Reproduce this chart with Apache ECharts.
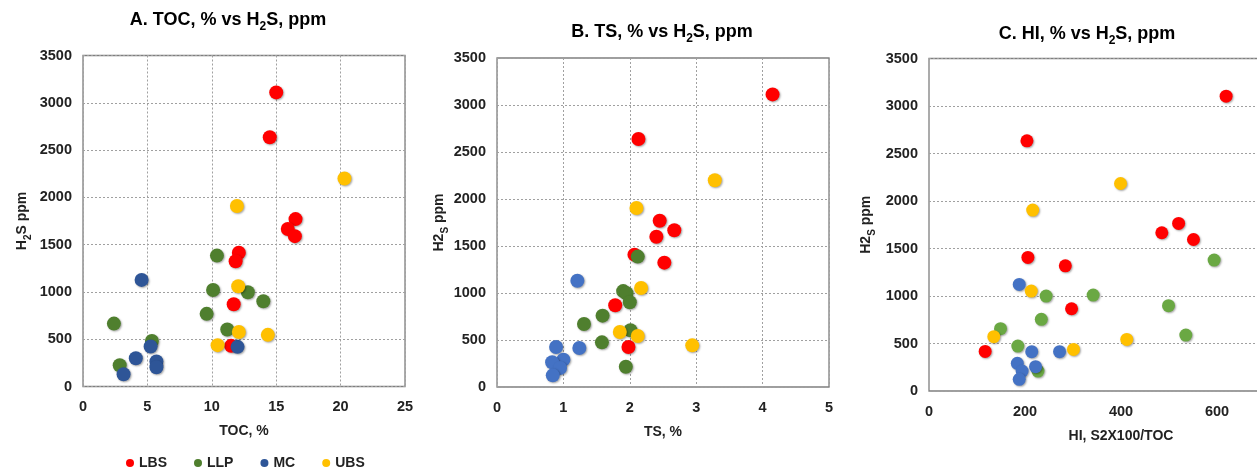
<!DOCTYPE html>
<html>
<head>
<meta charset="utf-8">
<script src="https://cdn.jsdelivr.net/npm/echarts@6/dist/echarts.min.js"></script>
<style>
  html, body { margin: 0; padding: 0; background: #fff; }
  #chart { width: 1257px; height: 470px; }
</style>
</head>
<body>
<div id="chart"></div>
<script>
// Sample groups
const groups = ['LBS', 'LLP', 'MC', 'UBS'];

// A. TOC (%) vs H2S (ppm)
const tocLBS = [[15.0, 3110], [14.5, 2635], [16.5, 1770], [15.9, 1665], [16.45, 1590], [12.1, 1415], [11.85, 1325], [11.7, 870], [11.5, 430]];
const tocLLP = [[2.4, 665], [2.85, 225], [5.35, 482], [10.4, 1384], [10.1, 1020], [9.6, 768], [12.8, 996], [14.0, 901], [11.2, 602]];
const tocMC  = [[4.55, 1127], [4.1, 299], [5.25, 423], [5.7, 264], [5.7, 204], [3.15, 130], [12.0, 419]];
const tocUBS = [[20.3, 2200], [11.95, 1908], [12.05, 1060], [12.1, 577], [14.35, 546], [10.45, 437]];

// B. TS (%) vs H2S (ppm)
const tsLBS = [[4.15, 3113], [2.13, 2638], [2.45, 1769], [2.67, 1667], [2.40, 1599], [2.07, 1408], [2.52, 1323], [1.78, 869], [1.98, 426]];
const tsLLP = [[2.12, 1387], [1.9, 1020], [1.95, 998], [2.0, 901], [1.59, 759], [1.31, 670], [2.01, 603], [1.58, 475], [1.94, 216]];
const tsMC  = [[1.21, 1131], [1.24, 415], [0.89, 426], [1.0, 291], [0.83, 263], [0.95, 202], [0.84, 124]];
const tsUBS = [[3.28, 2199], [2.10, 1904], [2.17, 1053], [1.85, 585], [2.12, 543], [2.94, 443]];

// C. HI (S2x100/TOC) vs H2S (ppm)
const hiLBS = [[619, 3103], [204, 2633], [520, 1764], [485, 1666], [551, 1595], [206, 1406], [284, 1318], [297, 866], [117, 417]];
const hiLLP = [[594, 1378], [342, 1010], [244, 999], [499, 898], [234, 754], [149, 656], [535, 589], [185, 473], [227, 210]];
const hiMC  = [[188, 1122], [214, 414], [272, 414], [184, 291], [222, 256], [194, 210], [188, 123]];
const hiUBS = [[399, 2184], [216, 1904], [213, 1052], [135, 572], [412, 543], [301, 438]];

// Axis ticks
const yTicks = { min: 0, max: 3500, interval: 500 };
const xTicksA = { min: 0, max: 25, interval: 5 };
const xTicksB = { min: 0, max: 5, interval: 1 };
const xTicksC = { min: 0, max: 800, interval: 200 };

const panels = [
  { data: [tocLBS, tocLLP, tocMC, tocUBS], colors: ['#ff0000', '#4f7f2e', '#2e5597', '#ffc000'], size: 14 },
  { data: [tsLBS, tsLLP, tsMC, tsUBS],     colors: ['#ff0000', '#4f7f2e', '#4472c4', '#ffc000'], size: 14 },
  { data: [hiLBS, hiLLP, hiMC, hiUBS],     colors: ['#ff0000', '#6aa843', '#4472c4', '#ffc000'], size: 13 }
];

const FONT = '"Liberation Sans", Arial, sans-serif';
const INK = '#222';
const labelStyle = { fontFamily: FONT, fontWeight: 'bold', fontSize: 14.5, color: INK };
const nameStyle = { fontFamily: FONT, fontWeight: 'bold', fontSize: 14, color: INK };
const subRich = {
  n:   { fontFamily: FONT, fontWeight: 'bold', fontSize: 14, color: INK, lineHeight: 16, verticalAlign: 'top' },
  sub: { fontFamily: FONT, fontWeight: 'bold', fontSize: 10, color: INK, lineHeight: 10, verticalAlign: 'top', padding: [8, 0, 0, 0] }
};
const titleRich = {
  n:   { fontFamily: FONT, fontWeight: 'bold', fontSize: 18, color: INK, lineHeight: 20, verticalAlign: 'top' },
  sub: { fontFamily: FONT, fontWeight: 'bold', fontSize: 12, color: INK, lineHeight: 12, verticalAlign: 'top', padding: [10, 0, 0, 0] }
};
const gridLine = { show: true, lineStyle: { color: '#a0a0a0', type: [2, 2], width: 1 } };

const grids = [
  { left: 83,  top: 55.5, width: 322, height: 331 },
  { left: 497, top: 58,   width: 332, height: 329 },
  { left: 929, top: 58.5, width: 384, height: 332.5 }
].map(g => Object.assign({
  show: true, borderColor: '#7f7f7f', borderWidth: 1.3, backgroundColor: 'transparent',
  containLabel: false, outerBoundsMode: 'none'
}, g));

function xAxis(idx, ticks, name, vGrid) {
  return Object.assign({
    type: 'value', gridIndex: idx, name: name, nameLocation: 'middle', nameGap: 38,
    nameTextStyle: nameStyle,
    axisLine: { show: false }, axisTick: { show: false },
    axisLabel: Object.assign({ margin: 13, formatter: v => String(v) }, labelStyle),
    splitLine: vGrid ? gridLine : { show: false }
  }, ticks);
}
function yAxis(idx, name, gap) {
  return Object.assign({
    type: 'value', gridIndex: idx, name: name, nameLocation: 'middle', nameGap: gap,
    nameRotate: 90,
    nameTextStyle: { rich: subRich },
    axisLine: { show: false }, axisTick: { show: false },
    axisLabel: Object.assign({ margin: 11, formatter: v => String(v) }, labelStyle),
    splitLine: gridLine
  }, yTicks);
}

const series = [];
panels.forEach((p, pi) => {
  p.data.forEach((d, gi) => {
    series.push({
      type: 'scatter', name: groups[gi], xAxisIndex: pi, yAxisIndex: pi,
      data: d, symbol: 'circle', symbolSize: p.size,
      itemStyle: {
        color: p.colors[gi], opacity: 1,
        shadowColor: 'rgba(0,0,0,0.35)', shadowBlur: 2, shadowOffsetX: 1, shadowOffsetY: 1
      },
      emphasis: { disabled: true }
    });
  });
});

function titleText(x, y, parts) {
  return {
    type: 'text', x: x, y: y,
    style: { text: parts, rich: titleRich, align: 'center', verticalAlign: 'middle' }
  };
}

const chart = echarts.init(document.getElementById('chart'), null, { renderer: 'canvas' });
chart.setOption({
  animation: false,
  backgroundColor: '#ffffff',
  grid: grids,
  xAxis: [
    xAxis(0, xTicksA, 'TOC, %', true),
    xAxis(1, xTicksB, 'TS, %', true),
    xAxis(2, xTicksC, 'HI, S2X100/TOC', false)
  ],
  yAxis: [
    yAxis(0, '{n|H}{sub|2}{n|S ppm}', 52),
    yAxis(1, '{n|H2}{sub|S}{n| ppm}', 48),
    yAxis(2, '{n|H2}{sub|S}{n| ppm}', 54)
  ],
  legend: {
    data: groups, left: 121, top: 451, icon: 'circle', itemWidth: 8, itemHeight: 8,
    itemGap: 27, textStyle: nameStyle, selectedMode: false
  },
  graphic: [
    titleText(228, 21, '{n|A. TOC, % vs H}{sub|2}{n|S, ppm}'),
    titleText(662, 33, '{n|B. TS, % vs H}{sub|2}{n|S, ppm}'),
    titleText(1087, 35, '{n|C. HI, % vs H}{sub|2}{n|S, ppm}')
  ],
  series: series
});
</script>
</body>
</html>
